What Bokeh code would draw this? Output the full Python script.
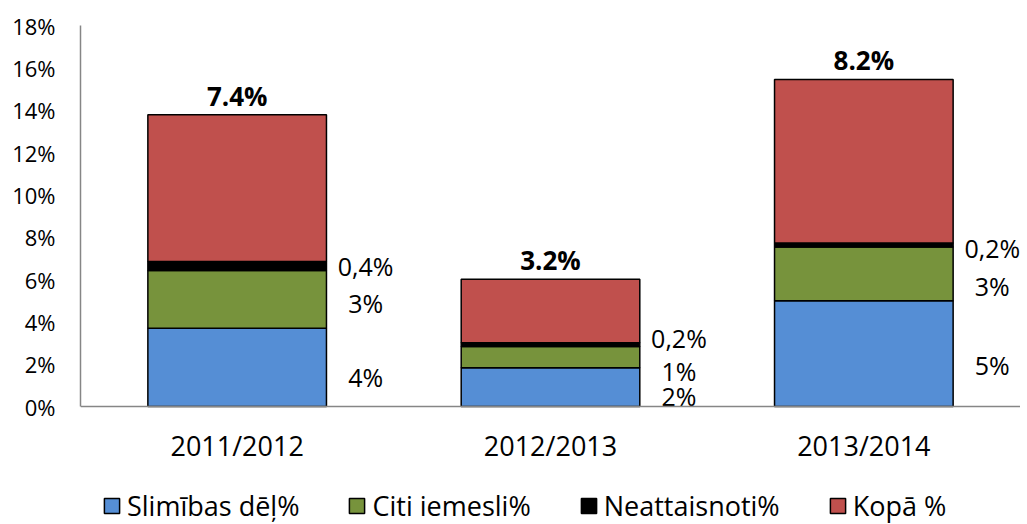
from bokeh.plotting import figure
from bokeh.models import (ColumnDataSource, Range1d, FactorRange, Legend, LegendItem,
                          PrintfTickFormatter, FixedTicker)
from bokeh.transform import dodge
from bokeh.core.properties import value
from bokeh.embed import file_html
from bokeh.resources import INLINE

# ---- data (percent units) ----
years = ["2011/2012", "2012/2013", "2013/2014"]
series_names = ["Slimības dēļ%", "Citi iemesli%", "Neattaisnoti%", "Kopā %"]
slimibas = [3.70, 1.83, 5.00]
citi = [2.72, 1.00, 2.53]
neattaisnoti = [0.43, 0.18, 0.20]
kopa = [6.93, 3.00, 7.72]
slimibas_lbl = ["4%", "2%", "5%"]
citi_lbl = ["3%", "1%", "3%"]
neatt_lbl = ["0,4%", "0,2%", "0,2%"]
kopa_lbl = ["7.4%", "3.2%", "8.2%"]
y_ticks = [0, 2, 4, 6, 8, 10, 12, 14, 16, 18]

colors = ["#558ED5", "#77933C", "#000000", "#C0504D"]
FONT = "Open Sans"

# layout: the frame runs to the bottom of the figure; the space under 0% holds the
# category axis (fixed at 0) and the legend
PX_PER_PCT = 381 / 18.0
Y_MIN = -118 / PX_PER_PCT

src = ColumnDataSource(dict(year=years, s=slimibas, c=citi, n=neattaisnoti, k=kopa))

p = figure(width=1020, height=524, x_range=FactorRange(*years), y_range=Range1d(Y_MIN, 18),
           output_backend="svg", toolbar_location=None,
           min_border_left=80, min_border_right=0, min_border_top=25, min_border_bottom=0)
p.outline_line_color = None
p.grid.grid_line_color = None
p.background_fill_color = "white"

rs = p.vbar_stack(["s", "c", "n", "k"], x="year", width=0.57, color=colors, source=src,
                  line_color="black", line_width=1.5)

# ---- segment labels (to the right of each bar) ----
seg_nudge = {  # layout nudges in % units
    "s": [-0.46, -0.40, -0.52],
    "c": [-0.18, -0.63, -0.58],
    "n": [0.00, 0.32, -0.13],
}
lx, ly, lt = [], [], []
for i, yr in enumerate(years):
    b0 = 0.0
    for key, vals, lbls in (("s", slimibas, slimibas_lbl), ("c", citi, citi_lbl),
                            ("n", neattaisnoti, neatt_lbl)):
        mid = b0 + vals[i] / 2.0
        lx.append(yr)
        ly.append(mid + seg_nudge[key][i])
        lt.append(lbls[i])
        b0 += vals[i]
lsrc = ColumnDataSource(dict(x=lx, y=ly, t=lt))
p.text(x=dodge("x", 0.41, range=p.x_range), y="y", text="t", source=lsrc,
       text_font=value(FONT), text_font_size="25px", text_align="center",
       text_baseline="middle", text_color="black")

# ---- total labels above bars ----
tops = [slimibas[i] + citi[i] + neattaisnoti[i] + kopa[i] for i in range(3)]
tsrc = ColumnDataSource(dict(x=years, y=tops, t=kopa_lbl))
p.text(x="x", y="y", text="t", source=tsrc, text_font=value(FONT), text_font_size="26px",
       text_font_style="bold", text_align="center", text_baseline="middle",
       y_offset=-19, text_color="black")

# ---- axes ----
p.yaxis.ticker = FixedTicker(ticks=y_ticks)
p.yaxis.formatter = PrintfTickFormatter(format="%d%%")
p.yaxis.bounds = (0, 18)
p.xaxis.fixed_location = 0
for ax in (p.xaxis[0], p.yaxis[0]):
    ax.axis_line_color = "#868686"
    ax.axis_line_width = 1.5
    ax.major_tick_line_color = None
    ax.minor_tick_line_color = None
    ax.major_label_text_font = FONT
    ax.major_label_text_color = "black"
p.yaxis.major_label_text_font_size = "22px"
p.yaxis.major_label_standoff = 19
p.xaxis.major_label_text_font_size = "27px"
p.xaxis.major_label_standoff = 14

# ---- legend ----
items = [LegendItem(label=series_names[i], renderers=[rs[i]]) for i in range(4)]
leg = Legend(items=items, orientation="horizontal", location=(22, 0),
             label_text_font=FONT, label_text_font_size="27px", label_text_color="black",
             glyph_width=19, glyph_height=19, label_standoff=6, spacing=48,
             padding=0, margin=0, border_line_color=None, background_fill_alpha=0)
p.add_layout(leg)

open("out.html", "w").write(file_html(p, INLINE))
